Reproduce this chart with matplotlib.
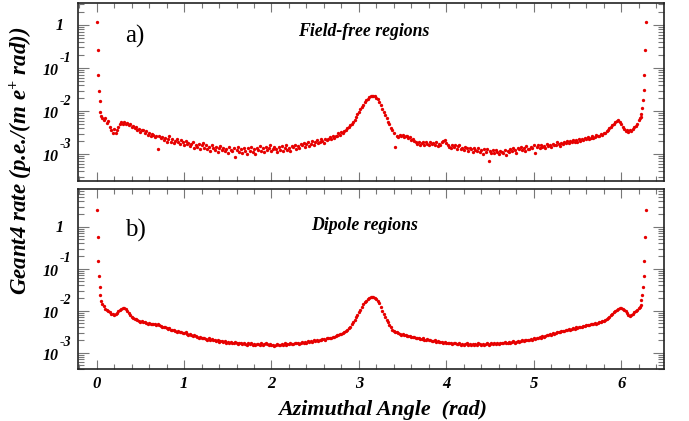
import numpy as np
import matplotlib
matplotlib.use('Agg')
import matplotlib.pyplot as plt
from matplotlib.ticker import FixedLocator, LogLocator, NullFormatter, MultipleLocator
from matplotlib.transforms import ScaledTranslation

# Fonte tipo Times (negrito italico, estilo ROOT)
plt.rcParams['font.family'] = 'Liberation Serif'
plt.rcParams['mathtext.fontset'] = 'custom'
plt.rcParams['mathtext.rm'] = 'Liberation Serif:italic:bold'
plt.rcParams['mathtext.it'] = 'Liberation Serif:italic:bold'
plt.rcParams['mathtext.bf'] = 'Liberation Serif:italic:bold'

# Pontos isolados perto de 0 e de 2*pi (subida forte)
phi_borda_esq = [0.004, 0.012, 0.020, 0.027, 0.035, 0.043]
phi_borda_dir = [6.225, 6.232, 6.240, 6.248, 6.256, 6.264, 6.271, 6.279]

borda_esq_a = [0.06, -0.59, -1.16, -1.53, -1.76, -2.02]
borda_dir_a = [-2.14, -2.07, -1.93, -1.74, -1.51, -1.16, -0.58, 0.06]
borda_esq_b = [0.41, -0.24, -0.82, -1.17, -1.43, -1.63]
borda_dir_b = [-1.86, -1.75, -1.63, -1.43, -1.17, -0.81, -0.24, 0.40]

# Corpo das curvas: log10 da taxa, 6 pontos por 0.1 rad a partir de 0.05 rad
# a) regioes sem campo
log_a = [
    -2.12, -2.16, -2.20, -2.17, -2.27, -2.24,
    -2.36, -2.43, -2.50, -2.41, -2.52, -2.45,
    -2.36, -2.30, -2.26, -2.31, -2.25, -2.29,
    -2.28, -2.33, -2.31, -2.37, -2.34, -2.40,
    -2.38, -2.44, -2.41, -2.49, -2.45, -2.43,
    -2.52, -2.47, -2.56, -2.50, -2.58, -2.53,
    -2.55, -2.61, -2.57, -2.88, -2.59, -2.63,
    -2.60, -2.68, -2.63, -2.71, -2.65, -2.59,
    -2.72, -2.66, -2.74, -2.69, -2.64, -2.71,
    -2.76, -2.68, -2.73, -2.79, -2.70, -2.77,
    -2.74, -2.82, -2.77, -2.71, -2.85, -2.79,
    -2.83, -2.76, -2.88, -2.80, -2.74, -2.86,
    -2.80, -2.89, -2.84, -2.92, -2.78, -2.86,
    -2.91, -2.83, -2.95, -2.87, -2.81, -2.90,
    -2.85, -2.93, -2.88, -2.98, -2.84, -2.91,
    -2.94, -2.86, -3.07, -2.90, -2.83, -2.96,
    -2.88, -2.97, -2.85, -2.93, -3.01, -2.87,
    -2.92, -2.84, -2.95, -2.88, -2.99, -2.86,
    -2.90, -2.82, -2.93, -2.86, -2.96, -2.84,
    -2.91, -2.85, -2.80, -2.94, -2.88, -2.83,
    -2.89, -2.95, -2.84, -2.90, -2.81, -2.92,
    -2.86, -2.80, -2.91, -2.85, -2.94, -2.82,
    -2.84, -2.78, -2.88, -2.81, -2.86, -2.77,
    -2.80, -2.74, -2.83, -2.77, -2.72, -2.81,
    -2.76, -2.70, -2.78, -2.73, -2.68, -2.75,
    -2.72, -2.66, -2.70, -2.74, -2.65, -2.68,
    -2.64, -2.60, -2.66, -2.58, -2.62, -2.57,
    -2.58, -2.52, -2.55, -2.49, -2.51, -2.46,
    -2.44, -2.40, -2.37, -2.32, -2.30, -2.25,
    -2.22, -2.15, -2.08, -2.02, -1.96, -1.90,
    -1.85, -1.80, -1.75, -1.71, -1.68, -1.66,
    -1.65, -1.64, -1.66, -1.69, -1.73, -1.79,
    -1.87, -1.95, -2.03, -2.10, -2.17, -2.25,
    -2.31, -2.40, -2.45, -2.52, -2.83, -2.57,
    -2.60, -2.56, -2.59, -2.55, -2.60, -2.57,
    -2.58, -2.62, -2.61, -2.67, -2.64, -2.70,
    -2.73, -2.76, -2.71, -2.78, -2.74, -2.72,
    -2.79, -2.73, -2.77, -2.80, -2.72, -2.76,
    -2.74, -2.78, -2.71, -2.82, -2.76, -2.79,
    -2.73, -2.70, -2.67, -2.74, -2.79, -2.83,
    -2.86, -2.78, -2.84, -2.80, -2.88, -2.82,
    -2.80, -2.88, -2.85, -2.91, -2.83, -2.87,
    -2.92, -2.85, -2.89, -2.95, -2.86, -2.90,
    -2.94, -2.87, -2.96, -2.90, -2.99, -2.88,
    -2.95, -2.89, -3.16, -2.93, -2.97, -2.90,
    -2.98, -2.91, -2.96, -3.01, -2.92, -2.95,
    -2.97, -2.90, -3.03, -2.92, -2.95, -2.88,
    -2.93, -2.86, -2.91, -2.97, -2.87, -2.89,
    -2.84, -2.90, -2.86, -2.93, -2.82, -2.88,
    -2.88, -2.83, -2.86, -2.80, -2.97, -2.84,
    -2.80, -2.85, -2.78, -2.83, -2.81, -2.86,
    -2.77, -2.82, -2.79, -2.84, -2.76, -2.80,
    -2.78, -2.73, -2.77, -2.81, -2.74, -2.76,
    -2.71, -2.75, -2.70, -2.74, -2.69, -2.73,
    -2.68, -2.72, -2.67, -2.71, -2.66, -2.69,
    -2.64, -2.68, -2.63, -2.66, -2.61, -2.65,
    -2.62, -2.58, -2.63, -2.60, -2.56, -2.59,
    -2.57, -2.53, -2.56, -2.50, -2.52, -2.46,
    -2.45, -2.40, -2.37, -2.33, -2.30, -2.26,
    -2.24, -2.22, -2.26, -2.30, -2.36, -2.42,
    -2.47, -2.45, -2.49, -2.44, -2.46, -2.41,
    -2.38, -2.34, -2.29, -2.22, -2.16,
]

# b) regioes de dipolo
log_b = [
    -1.76, -1.84, -1.90, -1.95, -1.99, -2.01,
    -2.04, -2.07, -2.09, -2.11, -2.09, -2.06,
    -2.02, -1.98, -1.95, -1.93, -1.94, -1.97,
    -2.01, -2.06, -2.11, -2.15, -2.18, -2.20,
    -2.21, -2.23, -2.24, -2.26, -2.25, -2.27,
    -2.28, -2.29, -2.31, -2.30, -2.32, -2.31,
    -2.33, -2.32, -2.34, -2.33, -2.35, -2.36,
    -2.38, -2.40, -2.39, -2.42, -2.43, -2.42,
    -2.45, -2.47, -2.46, -2.48, -2.50, -2.49,
    -2.51, -2.50, -2.53, -2.54, -2.52, -2.55,
    -2.57, -2.56, -2.58, -2.60, -2.59, -2.61,
    -2.62, -2.64, -2.63, -2.65, -2.66, -2.64,
    -2.67, -2.69, -2.66, -2.70, -2.68, -2.71,
    -2.70, -2.72, -2.71, -2.74, -2.72, -2.73,
    -2.75, -2.73, -2.76, -2.74, -2.77, -2.75,
    -2.76, -2.78, -2.75, -2.77, -2.79, -2.77,
    -2.78, -2.80, -2.77, -2.79, -2.81, -2.78,
    -2.80, -2.78, -2.81, -2.79, -2.82, -2.80,
    -2.79, -2.81, -2.78, -2.82, -2.80, -2.77,
    -2.79, -2.82, -2.80, -2.83, -2.81, -2.84,
    -2.82, -2.80, -2.83, -2.81, -2.79, -2.82,
    -2.78, -2.81, -2.79, -2.80, -2.77, -2.80,
    -2.79, -2.76, -2.78, -2.77, -2.79, -2.76,
    -2.75, -2.77, -2.74, -2.76, -2.73, -2.75,
    -2.72, -2.74, -2.71, -2.73, -2.70, -2.72,
    -2.69, -2.70, -2.68, -2.67, -2.69, -2.66,
    -2.65, -2.66, -2.64, -2.62, -2.63, -2.61,
    -2.59, -2.58, -2.56, -2.55, -2.53, -2.51,
    -2.49, -2.46, -2.42, -2.38, -2.33, -2.27,
    -2.22, -2.16, -2.10, -2.04, -1.98, -1.92,
    -1.85, -1.80, -1.76, -1.72, -1.70, -1.68,
    -1.68, -1.68, -1.69, -1.72, -1.76, -1.81,
    -1.92, -2.00, -2.08, -2.16, -2.22, -2.28,
    -2.35, -2.40, -2.45, -2.48, -2.50, -2.52,
    -2.54, -2.55, -2.57, -2.56, -2.58, -2.59,
    -2.60, -2.61, -2.60, -2.62, -2.63, -2.62,
    -2.64, -2.66, -2.65, -2.67, -2.68, -2.66,
    -2.69, -2.70, -2.68, -2.71, -2.70, -2.72,
    -2.73, -2.71, -2.74, -2.73, -2.75, -2.74,
    -2.75, -2.76, -2.74, -2.77, -2.76, -2.78,
    -2.77, -2.79, -2.78, -2.76, -2.79, -2.80,
    -2.78, -2.81, -2.79, -2.82, -2.80, -2.78,
    -2.81, -2.79, -2.82, -2.80, -2.83, -2.79,
    -2.81, -2.78, -2.80, -2.83, -2.79, -2.81,
    -2.80, -2.78, -2.81, -2.79, -2.77, -2.80,
    -2.78, -2.80, -2.77, -2.79, -2.76, -2.78,
    -2.77, -2.75, -2.78, -2.76, -2.74, -2.77,
    -2.75, -2.73, -2.76, -2.74, -2.72, -2.74,
    -2.72, -2.70, -2.73, -2.71, -2.69, -2.71,
    -2.69, -2.67, -2.69, -2.66, -2.68, -2.65,
    -2.65, -2.63, -2.64, -2.61, -2.62, -2.60,
    -2.59, -2.58, -2.56, -2.57, -2.54, -2.55,
    -2.53, -2.52, -2.50, -2.51, -2.49, -2.48,
    -2.48, -2.46, -2.47, -2.44, -2.45, -2.43,
    -2.42, -2.43, -2.40, -2.41, -2.39, -2.38,
    -2.38, -2.36, -2.37, -2.35, -2.34, -2.35,
    -2.33, -2.32, -2.33, -2.30, -2.31, -2.29,
    -2.28, -2.27, -2.25, -2.24, -2.22, -2.20,
    -2.17, -2.14, -2.10, -2.07, -2.04, -2.01,
    -1.98, -1.96, -1.94, -1.94, -1.95, -1.98,
    -2.01, -2.05, -2.10, -2.13, -2.11, -2.07,
    -2.04, -2.01, -1.98, -1.94, -1.91,
]

# decadas marcadas no eixo y (expoentes)
expoentes_y = [-3, -2, -1, 0]

vermelho = '#e60000'
fonte_eixo = dict(family='Liberation Serif', weight='bold', style='italic')

fig = plt.figure(figsize=(6.89, 4.21), dpi=100)
ax_a = fig.add_axes([0.1136, 0.570, 0.8501, 0.4236])
ax_b = fig.add_axes([0.1136, 0.1228, 0.8501, 0.4275])

paineis = [
    (ax_a, borda_esq_a, log_a, borda_dir_a, (2.36e-4, 3.3), 'a)', 0.81, 'Field-free regions', 0.836),
    (ax_b, borda_esq_b, log_b, borda_dir_b, (4.0e-4, 7.8), 'b)', 0.774, 'Dipole regions', 0.80),
]


def desloca(dx, dy):
    # deslocamento em pixels (dpi 100)
    return ScaledTranslation(dx / 100.0, dy / 100.0, fig.dpi_scale_trans)


for ax, esq, corpo, dir_, ylim, letra, y_letra, titulo, y_titulo in paineis:
    phi_corpo = 0.05 + np.arange(len(corpo)) / 60.0
    phi = np.concatenate([phi_borda_esq, phi_corpo, phi_borda_dir])
    taxa = 10.0 ** np.concatenate([esq, corpo, dir_])
    ax.plot(phi, taxa, 'o', color=vermelho, ms=2.4, mew=0, zorder=3)

    ax.set_yscale('log')
    ax.set_xlim(-0.21, 6.49)
    ax.set_ylim(*ylim)

    # eixo y: decadas, rotulos desenhados a mao no estilo ROOT
    ax.yaxis.set_major_locator(FixedLocator([10.0 ** e for e in expoentes_y]))
    ax.yaxis.set_major_formatter(NullFormatter())
    ax.yaxis.set_minor_locator(LogLocator(base=10, subs=np.arange(2, 10)))
    ax.yaxis.set_minor_formatter(NullFormatter())
    trans = ax.get_yaxis_transform()
    for e in expoentes_y:
        if e == 0:
            ax.text(-0.0318, 1.0, '1', transform=trans + desloca(0, -1), fontsize=11.5,
                    ha='center', va='center', **fonte_eixo)
        else:
            ax.text(-0.033, 10.0 ** e, '10', transform=trans + desloca(0, -3), fontsize=11.5,
                    ha='right', va='center', **fonte_eixo)
            ax.text(-0.031, 10.0 ** e, '-%d' % (-e), transform=trans + desloca(0, 10), fontsize=10,
                    ha='left', va='center', **fonte_eixo)

    # eixo x
    ax.xaxis.set_major_locator(MultipleLocator(1))
    ax.xaxis.set_minor_locator(MultipleLocator(0.2))

    ax.tick_params(which='both', direction='in', top=True, right=True, color='#777777', width=0.8)
    ax.tick_params(axis='y', which='major', length=8)
    ax.tick_params(axis='y', which='minor', length=4)
    ax.tick_params(axis='x', which='major', length=6.5, pad=5)
    ax.tick_params(axis='x', which='minor', length=3.5)
    for s in ax.spines.values():
        s.set_linewidth(1.2)
        s.set_color('#222222')

    ax.text(0.08, y_letra, letra, transform=ax.transAxes, fontsize=18,
            family='Liberation Serif', va='center', ha='left')
    ax.text(0.488, y_titulo, titulo, transform=ax.transAxes, fontsize=12.8,
            va='center', ha='center', **fonte_eixo)

ax_a.tick_params(axis='x', labelbottom=False)
for lab in ax_b.get_xticklabels():
    lab.set_fontsize(12)
    lab.set_fontweight('bold')
    lab.set_fontstyle('italic')

fig.text(0.555, 0.026, 'Azimuthal Angle  (rad)', fontsize=15.8, ha='center', va='center', **fonte_eixo)
fig.text(0.031, 0.617, 'Geant4 rate (p.e./(m e$^{+}$ rad))', fontsize=16.5, rotation=90,
         ha='center', va='center', **fonte_eixo)

fig.savefig('out.png', dpi=100)
